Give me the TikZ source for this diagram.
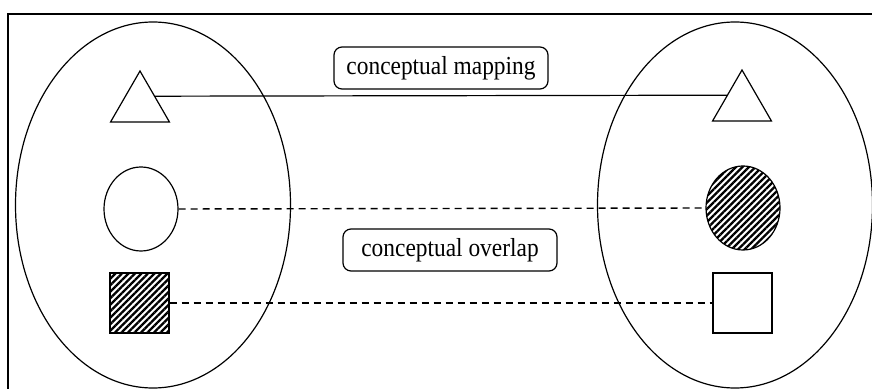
\documentclass[tikz,border=0pt]{standalone}
\usepackage{fontspec}
\setmainfont{Liberation Serif}[FakeStretch=0.9]
\usetikzlibrary{shapes.geometric,patterns.meta,calc}

\begin{document}
\begin{tikzpicture}[x=0.5pt,y=-0.5pt,line width=0.6pt,
    font=\fontsize{13}{15}\selectfont,
    area/.style={ellipse,draw,minimum width=137.5pt,minimum height=183pt},
    tri/.style={regular polygon,regular polygon sides=3,draw,minimum size=34pt,inner sep=0pt},
    oval/.style={ellipse,draw,minimum width=37pt,minimum height=42pt,inner sep=0pt},
    sq/.style={rectangle,draw,minimum width=29.5pt,minimum height=30pt,inner sep=0pt},
    hatch/.style={pattern={Lines[angle=45,distance=2.3pt,line width=1.15pt]}},
    tag/.style={rectangle,draw,rounded corners=4pt,inner xsep=0pt,minimum width=107pt,minimum height=21pt},
    link/.style={dash pattern=on 3.5pt off 2.5pt,line width=0.7pt}]
    \useasboundingbox (0,0) rectangle (872,389);

    \coordinate (leftCentre) at (153,205);
    \coordinate (rightCentre) at (735,205);

    % frame
    \draw[line width=0.9pt] (8,389) |- (872,14);

    \node[area] (leftArea) at (leftCentre) {};
    \node[area] (rightArea) at (rightCentre) {};

    \node[tri] (leftTri) at (140,105) {};
    \node[tri] (rightTri) at (742,104) {};

    \node[oval] (leftOval) at (141,209) {};
    \node[oval,hatch] (rightOval) at (743,208) {};

    \node[sq,hatch] (leftSq) at (139.5,303) {};
    \node[sq] (rightSq) at (742.5,303) {};

    \node[tag] (mapping) at (441,68) {conceptual mapping};
    \node[tag] (overlap) at (450,250) {conceptual overlap};

    \draw ($(leftTri.corner 1)!0.5!(leftTri.corner 3)$) -- ($(rightTri.corner 1)!0.5!(rightTri.corner 2)$);
    \draw[link] (leftOval.east) -- (rightOval.west);
    \draw[link] (leftSq.east) -- (rightSq.west);

\end{tikzpicture}
\end{document}
